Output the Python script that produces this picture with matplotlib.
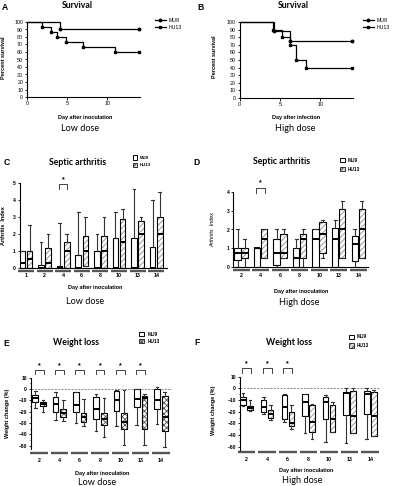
import matplotlib
matplotlib.use('Agg')
import matplotlib.pyplot as plt
import matplotlib.transforms as mtransforms
from matplotlib.patches import Patch
from matplotlib.lines import Line2D
from matplotlib.ticker import MultipleLocator
import numpy as np

plt.rcParams['font.family'] = ['Liberation Sans', 'DejaVu Sans']
plt.rcParams['hatch.linewidth'] = 0.6

# ---------------- data ----------------
# Survival (Kaplan-Meier), low dose
surv_low_mu9_t = [0, 4.1, 14]
surv_low_mu9_s = [100, 90, 90]
surv_low_hu13_t = [0, 1.9, 3.0, 3.8, 4.9, 7.0, 11.0, 14]
surv_low_hu13_s = [100, 93.3, 86.7, 80, 73.3, 66.7, 60, 60]
# Survival, high dose
surv_high_mu9_t = [0, 4.3, 6.2, 14]
surv_high_mu9_s = [100, 87.5, 75, 75]
surv_high_hu13_t = [0, 4.2, 5.3, 6.2, 7.0, 8.3, 14]
surv_high_hu13_s = [100, 90, 80, 70, 50, 40, 40]

# Septic arthritis, low dose
arth_low_days = ['1', '2', '4', '6', '8', '10', '13', '14']
arth_low_mu9_q1 = [0, 0, 0, 0, 0, 0, 0, 0]
arth_low_mu9_med = [0.25, 0, 0, 0, 0, 0, 0, 0]
arth_low_mu9_q3 = [1.0, 0.17, 0.12, 0.75, 1.0, 1.75, 1.75, 1.25]
arth_low_mu9_lo = [0, 0, 0, 0, 0, 0, 0, 0]
arth_low_mu9_hi = [1.0, 1.5, 2.67, 3.3, 2.0, 3.3, 4.67, 4.0]
arth_low_hu13_q1 = [0, 0, 0, 0.12, 0, 0, 0, 0]
arth_low_hu13_med = [0.5, 0.25, 1.0, 1.0, 1.0, 1.5, 2.0, 2.0]
arth_low_hu13_q3 = [1.0, 1.15, 1.5, 1.9, 1.9, 2.9, 2.75, 3.0]
arth_low_hu13_lo = [0, 0, 0, 0.12, 0, 0, 0, 0]
arth_low_hu13_hi = [2.5, 2.0, 2.0, 3.0, 3.0, 3.5, 3.0, 4.5]
arth_low_sig = ['4']

# Septic arthritis, high dose
arth_high_days = ['2', '4', '6', '8', '10', '13', '14']
arth_high_mu9_q1 = [0.4, 0, 0.1, 0, 0, 0, 0.35]
arth_high_mu9_med = [0.75, 1.0, 0.75, 0.5, 1.5, 1.5, 1.25]
arth_high_mu9_q3 = [1.0, 1.0, 1.5, 1.0, 2.0, 2.1, 1.65]
arth_high_mu9_lo = [0, 0, 0, 0, 0, 0, 0]
arth_high_mu9_hi = [2.0, 1.0, 2.0, 1.5, 2.0, 2.5, 2.0]
arth_high_hu13_q1 = [0.5, 0.5, 0.5, 0.5, 0.75, 0.5, 0.5]
arth_high_hu13_med = [0.75, 1.5, 0.75, 1.5, 1.75, 2.0, 2.0]
arth_high_hu13_q3 = [1.0, 2.0, 1.75, 1.75, 2.4, 3.1, 3.1]
arth_high_hu13_lo = [0, 0.5, 0.5, 0, 0.5, 0.5, 0.5]
arth_high_hu13_hi = [1.5, 2.0, 2.0, 2.0, 2.5, 3.5, 3.5]
arth_high_sig = ['4']

# Weight change, low dose
wt_low_days = ['2', '4', '6', '8', '10', '13', '14']
wt_low_mu9_q1 = [-11, -20, -20, -26, -19, -16, -18]
wt_low_mu9_med = [-8, -13, -14, -18, -10, -9, -10]
wt_low_mu9_q3 = [-5, -7, -3, -7, -2, 0, 0]
wt_low_mu9_lo = [-17, -27, -30, -37, -33, -32, -31]
wt_low_mu9_hi = [-2, -3, -3, -4, -1, 0, 2]
wt_low_hu13_q1 = [-15, -25, -29, -32, -35, -35, -37]
wt_low_hu13_med = [-13, -21, -25, -26, -29, -8, -25]
wt_low_hu13_q3 = [-11, -18, -21, -21, -21, -6, -6]
wt_low_hu13_lo = [-20, -28, -33, -42, -49, -49, -51]
wt_low_hu13_hi = [-10, -10, -9, -8, -1, -4, -3]
wt_low_sig = ['2', '4', '6', '8', '10', '13']

# Weight change, high dose
wt_high_days = ['2', '4', '6', '8', '10', '13', '14']
wt_high_mu9_q1 = [-14, -20, -26, -24, -26, -23, -22]
wt_high_mu9_med = [-10, -16, -16, -12, -12, -4, -4.5]
wt_high_mu9_q3 = [-7.5, -10, -6, -5, -7, -3, -2]
wt_high_mu9_lo = [-15.5, -22, -29, -38.5, -46, -47, -43]
wt_high_mu9_hi = [-4, -7, -5, -5, -6, 0, 0]
wt_high_hu13_q1 = [-18.5, -25, -32, -37, -37, -38.5, -41]
wt_high_hu13_med = [-16.5, -22, -30, -28.5, -26.5, -23.5, -23.5]
wt_high_hu13_q3 = [-15, -18.5, -20, -14, -14, -2, -3]
wt_high_hu13_lo = [-19, -27, -35, -43, -37, -38.5, -41]
wt_high_hu13_hi = [-10, -14, -14, -13, -12, 0, -1.5]
wt_high_sig = ['2', '4', '6']

# ---------------- layout helpers ----------------
W, H = 404, 486
fig = plt.figure(figsize=(W / 100, H / 100), dpi=100)


def rect(x0, y0, x1, y1):
    return [x0 / W, 1 - y1 / H, (x1 - x0) / W, (y1 - y0) / H]


def ftext(x, y, s, **kw):
    ha = kw.pop('ha', 'center')
    va = kw.pop('va', 'center')
    fig.text(x / W, 1 - y / H, s, ha=ha, va=va, **kw)


TITLE = dict(family=['Lato', 'DejaVu Sans'], weight='bold', fontsize=6.3)
DOSE = dict(family=['Lato', 'DejaVu Sans'], fontsize=6.6)
LETTER = dict(weight='bold', fontsize=6.2)
LAB = dict(weight='bold', fontsize=4.0)


def survival(ax, mt, ms, ht, hs):
    ax.step(mt, ms, where='post', color='black', lw=0.9, clip_on=False)
    ax.plot(mt[1:], ms[1:], ls='none', marker='o', ms=1.8, color='black', clip_on=False)
    ax.step(ht, hs, where='post', color='black', lw=0.9, clip_on=False)
    ax.plot(ht[1:], hs[1:], ls='none', marker='s', ms=2.0, color='black', clip_on=False)
    ax.set_xlim(0, 14.1)
    ax.set_ylim(0, 100)
    ax.set_xticks([0, 5, 10])
    ax.set_yticks(range(0, 101, 10))
    for s in ['top', 'right']:
        ax.spines[s].set_visible(False)
    for s in ['left', 'bottom']:
        ax.spines[s].set_linewidth(0.8)
    ax.tick_params(labelsize=3.8, length=1.8, width=0.6, pad=1)


def boxes(ax, days, mu9, hu13, hatch, off, width, sig, sig_y, bar_y, xlim, ylim,
          bottom_spine=True, hatch_col='#8a8a8a', label_pad=3):
    pos = np.arange(len(days))
    for vals, p, hatched in [(mu9, pos - off, False), (hu13, pos + off, True)]:
        q1, med, q3, lo, hi = [np.asarray(v, float) for v in vals]
        if hatched:
            ax.bar(p, q3 - q1, bottom=q1, width=width, color='white',
                   edgecolor=hatch_col, hatch=hatch, linewidth=0, zorder=2)
        stats = [dict(q1=a, med=b, q3=c, whislo=d, whishi=e)
                 for a, b, c, d, e in zip(q1, med, q3, lo, hi)]
        ax.bxp(stats, positions=p, widths=width, showfliers=False, patch_artist=True,
               manage_ticks=False, capwidths=width * 0.45,
               boxprops=dict(facecolor='none' if hatched else 'white',
                             edgecolor='black', linewidth=0.8),
               medianprops=dict(color='black', linewidth=1.4, solid_capstyle='butt'),
               whiskerprops=dict(color='#333333', linewidth=0.8),
               capprops=dict(color='#333333', linewidth=0.8), zorder=3)
    ax.set_xlim(*xlim)
    ax.set_ylim(*ylim)
    trans = mtransforms.blended_transform_factory(ax.transData, ax.transAxes)
    for p in pos:
        ax.plot([p - 0.43, p + 0.43], [bar_y, bar_y], transform=trans, clip_on=False,
                color='#555555', lw=1.7, solid_capstyle='butt')
    # significance brackets
    ytop, yleg, ystar = sig_y
    for d in sig:
        p = days.index(d)
        ax.plot([p - 0.22, p - 0.22, p + 0.22, p + 0.22], [yleg, ytop, ytop, yleg],
                color='#444444', lw=0.7, clip_on=False)
        ax.text(p, ystar, '*', ha='center', va='center', fontsize=5, weight='bold',
                clip_on=False)
    ax.set_xticks(pos)
    ax.set_xticklabels(days)
    for s in ['top', 'right']:
        ax.spines[s].set_visible(False)
    ax.spines['left'].set_linewidth(0.8)
    if bottom_spine:
        ax.spines['bottom'].set_linewidth(0.8)
    else:
        ax.spines['bottom'].set_visible(False)
    ax.tick_params(axis='x', length=0, labelsize=3.8, pad=label_pad)
    ax.tick_params(axis='y', length=1.8, width=0.6, labelsize=3.6, pad=1)
    for lab in ax.get_xticklabels() + ax.get_yticklabels():
        lab.set_fontweight('bold')


def line_legend(x, y):
    h = [Line2D([], [], color='black', lw=0.9, marker='o', ms=1.8),
         Line2D([], [], color='black', lw=0.9, marker='s', ms=2.0)]
    fig.legend(h, ['MU9', 'HU13'], loc='upper left', bbox_to_anchor=(x / W, 1 - y / H),
               frameon=False, fontsize=3.8, handlelength=2.0, handletextpad=0.5,
               labelspacing=0.45, borderpad=0, borderaxespad=0)


def box_legend(x, y, hatch, fs=3.2, spacing=0.6):
    h = [Patch(facecolor='white', edgecolor='black', lw=0.7),
         Patch(facecolor='#d8d8d8', edgecolor='#333333', lw=0.7, hatch=hatch)]
    leg = fig.legend(h, ['MU9', 'HU13'], loc='upper left', bbox_to_anchor=(x / W, 1 - y / H),
                     frameon=False, fontsize=fs, handlelength=1.1, handleheight=1.1,
                     handletextpad=0.6, labelspacing=spacing, borderpad=0, borderaxespad=0)
    for t in leg.get_texts():
        t.set_fontweight('bold')


# ---------------- Panel A ----------------
axA = fig.add_axes(rect(27, 22, 140, 97))
survival(axA, surv_low_mu9_t, surv_low_mu9_s, surv_low_hu13_t, surv_low_hu13_s)
ftext(5, 8, 'A', **LETTER)
ftext(77, 5.5, 'Survival', **TITLE)
ftext(4, 58, 'Percent survival', rotation=90, **LAB)
ftext(85, 117.5, 'Day after inoculation', **LAB)
ftext(80, 128.5, 'Low dose', **DOSE)
line_legend(155, 17.5)

# ---------------- Panel B ----------------
axB = fig.add_axes(rect(239.7, 22, 353, 98))
survival(axB, surv_high_mu9_t, surv_high_mu9_s, surv_high_hu13_t, surv_high_hu13_s)
ftext(200, 8, 'B', **LETTER)
ftext(293, 5.5, 'Survival', **TITLE)
ftext(215, 57, 'Percent survival', rotation=90, **LAB)
ftext(296, 118, 'Day after infection', **LAB)
ftext(295, 128.5, 'High dose', **DOSE)
line_legend(363, 17.5)

# ---------------- Panel C ----------------
axC = fig.add_axes(rect(19.5, 183.3, 167, 267.7))
boxes(axC, arth_low_days,
      (arth_low_mu9_q1, arth_low_mu9_med, arth_low_mu9_q3, arth_low_mu9_lo, arth_low_mu9_hi),
      (arth_low_hu13_q1, arth_low_hu13_med, arth_low_hu13_q3, arth_low_hu13_lo, arth_low_hu13_hi),
      '//////', 0.19, 0.3, arth_low_sig, (4.94, 4.65, 5.2), -0.035,
      (-0.35, 7.58), (0, 5), label_pad=4)
axC.yaxis.set_major_locator(MultipleLocator(1))
ftext(6.5, 162.5, 'C', **LETTER)
ftext(78, 162.5, 'Septic arthritis', **TITLE)
ftext(3.5, 226, 'Arthritis  Index', rotation=90, **LAB)
ftext(95, 287.3, 'Day after inoculation', **LAB)
ftext(85, 301.7, 'Low dose', **DOSE)
box_legend(132.5, 155.5, '//////')

# ---------------- Panel D ----------------
axD = fig.add_axes(rect(233.3, 191.7, 368, 267.3))
boxes(axD, arth_high_days,
      (arth_high_mu9_q1, arth_high_mu9_med, arth_high_mu9_q3, arth_high_mu9_lo, arth_high_mu9_hi),
      (arth_high_hu13_q1, arth_high_hu13_med, arth_high_hu13_q3, arth_high_hu13_lo, arth_high_hu13_hi),
      '//////', 0.18, 0.33, arth_high_sig, (4.21, 3.95, 4.45), -0.035,
      (-0.4, 6.5), (0, 4), label_pad=4)
axD.yaxis.set_major_locator(MultipleLocator(1))
ftext(197, 162.5, 'D', **LETTER)
ftext(282, 162, 'Septic arthritis', **TITLE)
ftext(212.7, 230, 'Arthritis  Index', rotation=90, style='italic', fontsize=4.0)
ftext(301, 291, 'Day after inoculation', **LAB)
ftext(299, 302.7, 'High dose', **DOSE)
box_legend(340, 157.5, '//////', fs=3.4, spacing=0.9)

# ---------------- Panel E ----------------
axE = fig.add_axes(rect(31, 377.7, 172, 449.1))
boxes(axE, wt_low_days,
      (wt_low_mu9_q1, wt_low_mu9_med, wt_low_mu9_q3, wt_low_mu9_lo, wt_low_mu9_hi),
      (wt_low_hu13_q1, wt_low_hu13_med, wt_low_hu13_q3, wt_low_hu13_lo, wt_low_hu13_hi),
      'xxxxxx', 0.19, 0.28, wt_low_sig, (16.8, 13, 20.8), -0.05,
      (-0.4, 6.55), (-53, 10), bottom_spine=False, hatch_col='#555555', label_pad=6.5)
axE.yaxis.set_major_locator(MultipleLocator(10))
axE.yaxis.set_minor_locator(MultipleLocator(5))
axE.tick_params(axis='y', which='minor', length=1.0, width=0.5)
axE.axhline(0, color='#777777', lw=0.6, ls=(0, (2.5, 1.5)), zorder=1)
ftext(6.5, 343.3, 'E', **LETTER)
ftext(76, 342.7, 'Weight loss', **TITLE)
ftext(7.5, 413.3, 'Weight change (%)', rotation=90, **LAB)
ftext(101.7, 473.3, 'Day after inoculation', **LAB)
ftext(96.7, 482.5, 'Low dose', **DOSE)
box_legend(139.3, 331.5, 'xxxxxx', fs=3.4, spacing=0.45)

# ---------------- Panel F ----------------
axF = fig.add_axes(rect(240, 376.7, 379.5, 450.2))
boxes(axF, wt_high_days,
      (wt_high_mu9_q1, wt_high_mu9_med, wt_high_mu9_q3, wt_high_mu9_lo, wt_high_mu9_hi),
      (wt_high_hu13_q1, wt_high_hu13_med, wt_high_hu13_q3, wt_high_hu13_lo, wt_high_hu13_hi),
      '//////', 0.17, 0.27, wt_high_sig, (17.2, 12.9, 21.2), -0.025,
      (-0.32, 6.45), (-53, 10), bottom_spine=False, label_pad=5)
axF.yaxis.set_major_locator(MultipleLocator(10))
axF.yaxis.set_minor_locator(MultipleLocator(5))
axF.tick_params(axis='y', which='minor', length=1.0, width=0.5)
axF.axhline(0, color='#777777', lw=0.6, ls=(0, (2.5, 1.5)), zorder=1)
ftext(197, 342.7, 'F', **LETTER)
ftext(289.3, 342.3, 'Weight loss', **TITLE)
ftext(213, 410, 'Weight change (%)', rotation=90, **LAB)
ftext(306, 470.7, 'Day after inoculation', **LAB)
ftext(302, 480.7, 'High dose', **DOSE)
box_legend(348.7, 334.5, '//////', fs=3.4, spacing=0.75)

fig.savefig('out.png', dpi=100)
